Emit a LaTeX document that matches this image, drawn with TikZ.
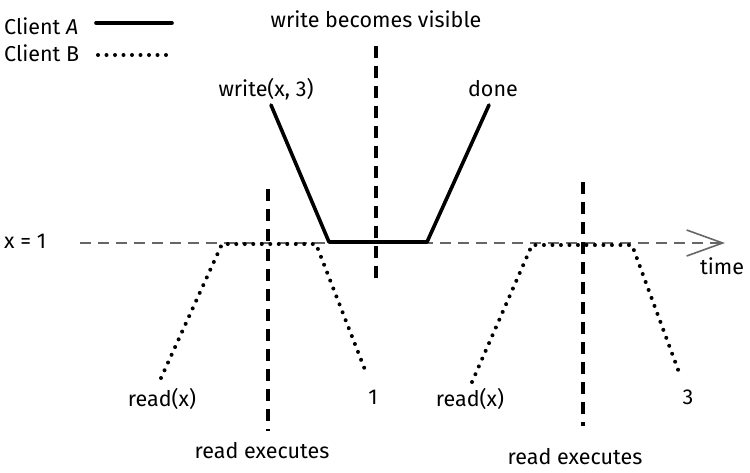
\documentclass[tikz,border=0pt]{standalone}
\usepackage{fontspec}
\setmainfont{Fira Sans}
\usetikzlibrary{arrows.meta}

\tikzset{
  writeline/.style={line width=3.6pt, line join=round, line cap=round},
  readline/.style={line width=4pt, line cap=round, dash pattern=on 0pt off 8.5pt},
  marker/.style={line width=3.2pt, dash pattern=on 12pt off 8pt},
  timeaxis/.style={line width=1.6pt, color=black!60, dash pattern=on 11pt off 7pt},
  lbl/.style={inner sep=0pt}
}

\begin{document}
\begin{tikzpicture}[x=1pt, y=-1pt, font=\fontsize{21.5}{25}\selectfont,
    >={Straight Barb[length=36pt, width=26pt, line width=1.6pt]}]
  \useasboundingbox (0,0) rectangle (750,472);

  % Legende
  \node[lbl, anchor=west] (legA) at (4,26) {Client \textit{A}};
  \node[lbl, anchor=west] (legB) at (4,53) {Client B};
  \coordinate (legA1) at (96,23);  \coordinate (legA2) at (172,23);
  \coordinate (legB1) at (98,55);  \coordinate (legB2) at (172,55);
  \draw[writeline] (legA1) -- (legA2);
  \draw[readline] (legB1) -- (legB2);

  % Trục thời gian
  \node[lbl, anchor=west] (xval) at (4,241) {x = 1};
  \coordinate (t0) at (80,243);
  \coordinate (t1) at (725,243);
  \draw[timeaxis, ->] (t0) -- (t1);
  \node[lbl] (time) at (722,266) {time};

  % Ghi x = 3
  \coordinate (w0) at (271,105);
  \coordinate (w1) at (329,242);
  \coordinate (w2) at (427,242);
  \coordinate (w3) at (489,105);
  \draw[writeline] (w0) -- (w1) -- (w2) -- (w3);
  \node[lbl] (wlbl) at (266,89) {write(x, 3)};
  \node[lbl] (done) at (493,89) {done};

  % Thời điểm ghi có hiệu lực
  \node[lbl] (vis) at (376,19) {write becomes visible};
  \coordinate (v0) at (376,46);
  \coordinate (v1) at (376,283);
  \draw[marker] (v0) -- (v1);

  % Lần đọc thứ nhất
  \coordinate (ra0) at (161,378);
  \coordinate (ra1) at (222,244);
  \coordinate (ra2) at (316,244);
  \coordinate (ra3) at (367,375);
  \draw[readline] (ra0) -- (ra1) -- (ra2) -- (ra3);
  \node[lbl] (ra) at (162,399) {read(x)};
  \node[lbl] (one) at (373,397) {1};
  \coordinate (ea0) at (268,189);
  \coordinate (ea1) at (268,431);
  \draw[marker] (ea0) -- (ea1);
  \node[lbl] (exa) at (262,451) {read executes};

  % Lần đọc thứ hai
  \coordinate (rb0) at (472,382);
  \coordinate (rb1) at (532,245);
  \coordinate (rb2) at (632,245);
  \coordinate (rb3) at (680,375);
  \draw[readline] (rb0) -- (rb1) -- (rb2) -- (rb3);
  \node[lbl] (rb) at (470,399) {read(x)};
  \node[lbl] (three) at (688,397) {3};
  \coordinate (eb0) at (583,182);
  \coordinate (eb1) at (583,426);
  \draw[marker] (eb0) -- (eb1);
  \node[lbl] (exb) at (575,457) {read executes};
\end{tikzpicture}
\end{document}
